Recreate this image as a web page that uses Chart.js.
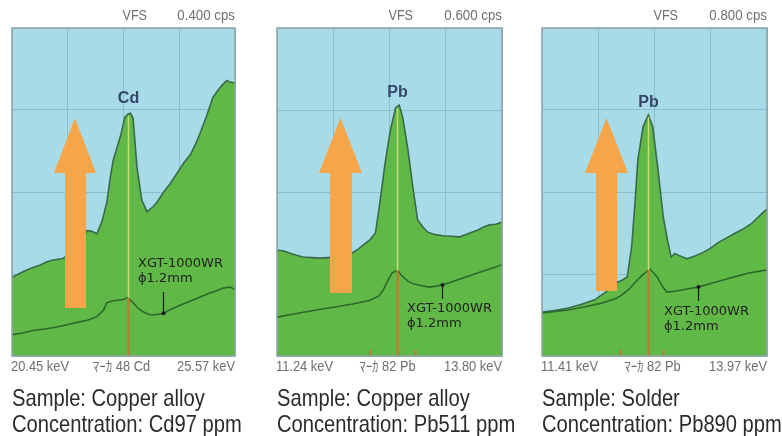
<!DOCTYPE html>
<html>
<head>
<meta charset="utf-8">
<script src="https://cdn.jsdelivr.net/npm/chart.js@4.4.1/dist/chart.umd.min.js"></script>
<style>
    body { margin: 0; background: #ffffff; }
    #wrap { position: relative; width: 782px; height: 436px; overflow: hidden; }
    #wrap canvas { position: absolute; top: 0; }
</style>
</head>
<body>
<div id="wrap">
    <canvas id="chart-cd" width="262" height="436" style="left:0px"></canvas>
    <canvas id="chart-pb1" width="262" height="436" style="left:265px"></canvas>
    <canvas id="chart-pb2" width="252" height="436" style="left:530px"></canvas>
</div>
<script>
// energy range of each panel (keV) and vertical full scale (cps)
var rangeMin = [20.45, 11.24, 11.41];
var rangeMax = [25.57, 13.80, 13.97];
var vfsValues = [0.400, 0.600, 0.800];
var vfsLabels = ['0.400 cps', '0.600 cps', '0.800 cps'];
var markerLabels = ['ﾏｰｶ 48 Cd', 'ﾏｰｶ 82 Pb', 'ﾏｰｶ 82 Pb'];
var elementLabels = ['Cd', 'Pb', 'Pb'];
var markerKeV = [23.11, 12.61, 12.62];
var minorMarkerKeV = [[], [12.30, 12.81], [12.30, 12.79]];
var pointerKeV = [23.92, 13.12, 13.18];
var sampleLabels = ['Sample: Copper alloy', 'Sample: Copper alloy', 'Sample: Solder'];
var concentrationLabels = ['Concentration: Cd97 ppm', 'Concentration: Pb511 ppm', 'Concentration: Pb890 ppm'];
var modelLabel = 'XGT-1000WR';
var spotLabel = 'ϕ1.2mm';

// Cd spectrum, copper alloy
var cdKeV = [20.45, 20.60, 20.75, 20.93, 21.10, 21.25, 21.39, 21.62, 21.90, 22.05, 22.17, 22.28, 22.40, 22.52,
    22.63, 22.70, 22.77, 22.86, 22.95, 23.04, 23.11, 23.17, 23.23, 23.32, 23.43, 23.55, 23.69, 23.80, 23.92,
    24.08, 24.24, 24.40, 24.54, 24.66, 24.77, 24.92, 25.06, 25.18, 25.27, 25.38, 25.46, 25.57];
var cdCps = [0.096, 0.100, 0.104, 0.108, 0.111, 0.115, 0.117, 0.119, 0.129, 0.140, 0.153, 0.152, 0.149, 0.165,
    0.188, 0.215, 0.238, 0.254, 0.270, 0.291, 0.295, 0.296, 0.290, 0.230, 0.190, 0.176, 0.182, 0.189, 0.199,
    0.210, 0.223, 0.236, 0.245, 0.258, 0.272, 0.293, 0.315, 0.324, 0.330, 0.336, 0.334, 0.333];
var cdWrKeV = [20.45, 20.70, 20.93, 21.20, 21.45, 21.71, 21.95, 22.20, 22.40, 22.55, 22.63, 22.75, 22.86, 23.00,
    23.11, 23.23, 23.35, 23.46, 23.58, 23.69, 23.80, 23.92, 24.10, 24.31, 24.55, 24.77, 24.95, 25.16, 25.30,
    25.46, 25.57];
var cdWrCps = [0.026, 0.028, 0.031, 0.033, 0.035, 0.038, 0.041, 0.044, 0.048, 0.056, 0.065, 0.067, 0.068, 0.069,
    0.071, 0.065, 0.058, 0.054, 0.051, 0.050, 0.051, 0.052, 0.057, 0.062, 0.067, 0.072, 0.076, 0.080, 0.083,
    0.084, 0.081];

// Pb spectrum, copper alloy
var pbCuKeV = [11.24, 11.32, 11.39, 11.47, 11.54, 11.64, 11.73, 11.82, 11.90, 12.00, 12.09, 12.16, 12.22, 12.30,
    12.36, 12.41, 12.47, 12.53, 12.59, 12.63, 12.67, 12.73, 12.79, 12.84, 12.90, 12.95, 13.04, 13.13, 13.22,
    13.32, 13.42, 13.52, 13.59, 13.66, 13.73, 13.80];
var pbCuCps = [0.194, 0.192, 0.188, 0.184, 0.181, 0.180, 0.179, 0.180, 0.181, 0.184, 0.188, 0.195, 0.203, 0.213,
    0.225, 0.280, 0.353, 0.413, 0.454, 0.459, 0.437, 0.377, 0.304, 0.249, 0.236, 0.227, 0.222, 0.220, 0.219,
    0.218, 0.224, 0.230, 0.236, 0.240, 0.241, 0.245];
var pbCuWrKeV = [11.24, 11.40, 11.54, 11.72, 11.92, 12.10, 12.30, 12.40, 12.45, 12.50, 12.55, 12.61, 12.67, 12.73,
    12.79, 12.90, 12.98, 13.12, 13.20, 13.29, 13.40, 13.52, 13.66, 13.80];
var pbCuWrCps = [0.071, 0.076, 0.080, 0.085, 0.090, 0.095, 0.102, 0.110, 0.121, 0.138, 0.152, 0.157, 0.145, 0.137,
    0.132, 0.128, 0.126, 0.130, 0.134, 0.139, 0.145, 0.152, 0.159, 0.167];

// Pb spectrum, solder
var pbSnKeV = [11.41, 11.55, 11.71, 11.86, 12.01, 12.15, 12.27, 12.33, 12.38, 12.43, 12.47, 12.50, 12.56, 12.62,
    12.67, 12.73, 12.79, 12.84, 12.88, 12.92, 12.96, 13.06, 13.14, 13.23, 13.32, 13.41, 13.51, 13.61, 13.70,
    13.80, 13.90, 13.97];
var pbSnCps = [0.107, 0.111, 0.117, 0.126, 0.137, 0.158, 0.180, 0.186, 0.193, 0.266, 0.380, 0.478, 0.559, 0.588,
    0.559, 0.454, 0.339, 0.280, 0.241, 0.250, 0.246, 0.237, 0.243, 0.251, 0.262, 0.276, 0.288, 0.300, 0.310,
    0.324, 0.345, 0.359];
var pbSnWrKeV = [11.41, 11.71, 11.90, 12.09, 12.25, 12.32, 12.40, 12.47, 12.53, 12.58, 12.64, 12.72, 12.78, 12.83,
    12.92, 13.00, 13.18, 13.30, 13.46, 13.60, 13.75, 13.97];
var pbSnWrCps = [0.105, 0.112, 0.120, 0.129, 0.140, 0.149, 0.163, 0.180, 0.193, 0.202, 0.212, 0.193, 0.170, 0.156,
    0.158, 0.161, 0.168, 0.175, 0.185, 0.193, 0.202, 0.210];

var spectra = [
    { main: [cdKeV, cdCps], wr: [cdWrKeV, cdWrCps] },
    { main: [pbCuKeV, pbCuCps], wr: [pbCuWrKeV, pbCuWrCps] },
    { main: [pbSnKeV, pbSnCps], wr: [pbSnWrKeV, pbSnWrCps] }
];

// page layout (page pixels)
var canvasLeft = [0, 265, 530];
var canvasWidth = [262, 262, 252];
var plotLeft = [12, 277, 542];
var plotRight = [235, 502, 767];
var plotTop = 28;
var plotBottom = 356;
var arrows = [
    { headL: 54, headR: 96, shaftL: 65, shaftR: 86, top: 118, base: 173, bottom: 308 },
    { headL: 319, headR: 362, shaftL: 330, shaftR: 352, top: 118, base: 173, bottom: 293 },
    { headL: 585, headR: 628, shaftL: 596, shaftR: 617, top: 118, base: 173, bottom: 291 }
];
var notes = [
    { textX: 138, textY: 264, tipY: 292 },
    { textX: 407, textY: 309, tipY: 299 },
    { textX: 664, textY: 312, tipY: 301 }
];
var elementLabelY = [99, 93, 103];

var COLOR_SKY = '#a8dbe8';
var COLOR_GRID = '#88c0d0';
var COLOR_FILL = '#60b846';
var COLOR_EDGE = '#3a6a4c';
var COLOR_WR = '#2b6a2c';
var COLOR_ARROW = '#f6a548';

function toPoints(pair) {
    var pts = [];
    for (var i = 0; i < pair[0].length; i++) {
        pts.push({ x: pair[0][i], y: pair[1][i] });
    }
    return pts;
}

function valueAt(pair, x) {
    var xs = pair[0], ys = pair[1];
    for (var i = 1; i < xs.length; i++) {
        if (x <= xs[i]) {
            var t = (x - xs[i - 1]) / (xs[i] - xs[i - 1]);
            return ys[i - 1] + t * (ys[i] - ys[i - 1]);
        }
    }
    return ys[ys.length - 1];
}

function condensedText(ctx, text, x, y, sx, align) {
    ctx.save();
    ctx.translate(x, y);
    ctx.scale(sx, 1);
    ctx.textAlign = align || 'left';
    ctx.fillText(text, 0, 0);
    ctx.restore();
}

function makeDecor(idx) {
    return {
        id: 'panelDecor' + idx,
        beforeDraw: function (chart) {
            var ctx = chart.ctx, a = chart.chartArea;
            ctx.save();
            ctx.fillStyle = COLOR_SKY;
            ctx.fillRect(a.left, a.top, a.right - a.left, a.bottom - a.top);
            ctx.restore();
        },
        afterDatasetsDraw: function (chart) {
            var ctx = chart.ctx, a = chart.chartArea;
            var xs = chart.scales.x, ys = chart.scales.y;
            var sp = spectra[idx];
            var off = canvasLeft[idx];

            ctx.save();
            // marker line: orange below the XGT-1000WR trace, pale above it
            var mx = Math.round(xs.getPixelForValue(markerKeV[idx])) + 0.5;
            var wrY = ys.getPixelForValue(valueAt(sp.wr, markerKeV[idx]));
            var peakY = ys.getPixelForValue(valueAt(sp.main, markerKeV[idx]));
            ctx.lineWidth = 2;
            ctx.strokeStyle = '#c4792c';
            ctx.beginPath();
            ctx.moveTo(mx, a.bottom);
            ctx.lineTo(mx, wrY);
            ctx.stroke();
            ctx.strokeStyle = '#c6dc74';
            ctx.lineWidth = 1.5;
            ctx.beginPath();
            ctx.moveTo(mx, wrY);
            ctx.lineTo(mx, peakY + 2);
            ctx.stroke();
            minorMarkerKeV[idx].forEach(function (k) {
                var px = Math.round(xs.getPixelForValue(k)) + 0.5;
                ctx.strokeStyle = '#c4792c';
                ctx.lineWidth = 2;
                ctx.beginPath();
                ctx.moveTo(px, a.bottom);
                ctx.lineTo(px, a.bottom - 6);
                ctx.stroke();
            });

            // XGT-1000WR pointer
            var n = notes[idx];
            var px = Math.round(xs.getPixelForValue(pointerKeV[idx])) + 0.5;
            var py = ys.getPixelForValue(valueAt(sp.wr, pointerKeV[idx]));
            ctx.strokeStyle = '#1a1a1a';
            ctx.lineWidth = 1.2;
            ctx.beginPath();
            ctx.moveTo(px, py);
            ctx.lineTo(px, n.tipY);
            ctx.stroke();
            ctx.fillStyle = '#1a1a1a';
            ctx.beginPath();
            ctx.arc(px, py, 2, 0, Math.PI * 2);
            ctx.fill();
            ctx.font = '13px "DejaVu Sans", sans-serif';
            ctx.textBaseline = 'middle';
            ctx.textAlign = 'left';
            ctx.fillStyle = '#222222';
            ctx.fillText(modelLabel, n.textX - off, n.textY);
            ctx.fillText(spotLabel, n.textX - off, n.textY + 15);

            // element label above the peak
            ctx.font = 'bold 16px "Liberation Sans", Arial, sans-serif';
            ctx.textAlign = 'center';
            ctx.fillStyle = '#34466a';
            ctx.fillText(elementLabels[idx], mx, elementLabelY[idx]);

            // big orange arrow
            var ar = arrows[idx];
            ctx.fillStyle = COLOR_ARROW;
            ctx.beginPath();
            ctx.moveTo((ar.headL + ar.headR) / 2 - off, ar.top);
            ctx.lineTo(ar.headR - off, ar.base);
            ctx.lineTo(ar.shaftR - off, ar.base);
            ctx.lineTo(ar.shaftR - off, ar.bottom);
            ctx.lineTo(ar.shaftL - off, ar.bottom);
            ctx.lineTo(ar.shaftL - off, ar.base);
            ctx.lineTo(ar.headL - off, ar.base);
            ctx.closePath();
            ctx.fill();

            // frame
            ctx.strokeStyle = '#8ea3ab';
            ctx.lineWidth = 1.5;
            ctx.strokeRect(a.left, a.top, a.right - a.left, a.bottom - a.top);
            ctx.restore();
        },
        afterDraw: function (chart) {
            var ctx = chart.ctx, a = chart.chartArea;
            var mid = (a.left + a.right) / 2;
            ctx.save();
            ctx.fillStyle = '#6f6f6f';
            ctx.textBaseline = 'middle';
            ctx.font = '14px "Liberation Sans", "Noto Sans CJK JP", sans-serif';
            condensedText(ctx, 'VFS', mid - 1, 16, 0.9, 'left');
            condensedText(ctx, vfsLabels[idx], a.right, 16, 0.95, 'right');
            condensedText(ctx, rangeMin[idx].toFixed(2) + ' keV', a.left - 1, 367, 0.92, 'left');
            condensedText(ctx, markerLabels[idx], mid - 2, 367, 0.92, 'center');
            condensedText(ctx, rangeMax[idx].toFixed(2) + ' keV', a.right, 367, 0.92, 'right');

            ctx.fillStyle = '#2b2b2b';
            ctx.textBaseline = 'alphabetic';
            ctx.font = '24px "Liberation Sans", Arial, sans-serif';
            condensedText(ctx, sampleLabels[idx], a.left, 406, 0.84, 'left');
            condensedText(ctx, concentrationLabels[idx], a.left, 432, 0.84, 'left');
            ctx.restore();
        }
    };
}

function evenTicks(lo, hi) {
    var t = [];
    for (var i = 0; i <= 4; i++) {
        t.push({ value: lo + (hi - lo) * i / 4 });
    }
    return t;
}

var charts = [];
['chart-cd', 'chart-pb1', 'chart-pb2'].forEach(function (id, idx) {
    var ctx = document.getElementById(id);
    charts.push(new Chart(ctx, {
        type: 'line',
        data: {
            datasets: [
                {
                    label: modelLabel,
                    data: toPoints(spectra[idx].wr),
                    borderColor: COLOR_WR,
                    borderWidth: 1.6,
                    pointRadius: 0,
                    tension: 0,
                    fill: false,
                    order: 0
                },
                {
                    label: elementLabels[idx],
                    data: toPoints(spectra[idx].main),
                    borderColor: COLOR_EDGE,
                    backgroundColor: COLOR_FILL,
                    borderWidth: 1.6,
                    pointRadius: 0,
                    tension: 0,
                    fill: 'origin',
                    order: 1
                }
            ]
        },
        plugins: [makeDecor(idx)],
        options: {
            responsive: false,
            animation: false,
            events: [],
            layout: {
                padding: {
                    left: plotLeft[idx] - canvasLeft[idx],
                    right: canvasLeft[idx] + canvasWidth[idx] - plotRight[idx],
                    top: plotTop,
                    bottom: 436 - plotBottom
                }
            },
            plugins: {
                legend: { display: false },
                tooltip: { enabled: false }
            },
            scales: {
                x: {
                    type: 'linear',
                    min: rangeMin[idx],
                    max: rangeMax[idx],
                    afterBuildTicks: function (scale) {
                        scale.ticks = evenTicks(rangeMin[idx], rangeMax[idx]);
                    },
                    ticks: { display: false },
                    grid: { color: COLOR_GRID, drawTicks: false },
                    border: { display: false }
                },
                y: {
                    min: 0,
                    max: vfsValues[idx],
                    afterBuildTicks: function (scale) {
                        scale.ticks = evenTicks(0, vfsValues[idx]);
                    },
                    ticks: { display: false },
                    grid: { color: COLOR_GRID, drawTicks: false },
                    border: { display: false }
                }
            }
        }
    }));
});
</script>
</body>
</html>
